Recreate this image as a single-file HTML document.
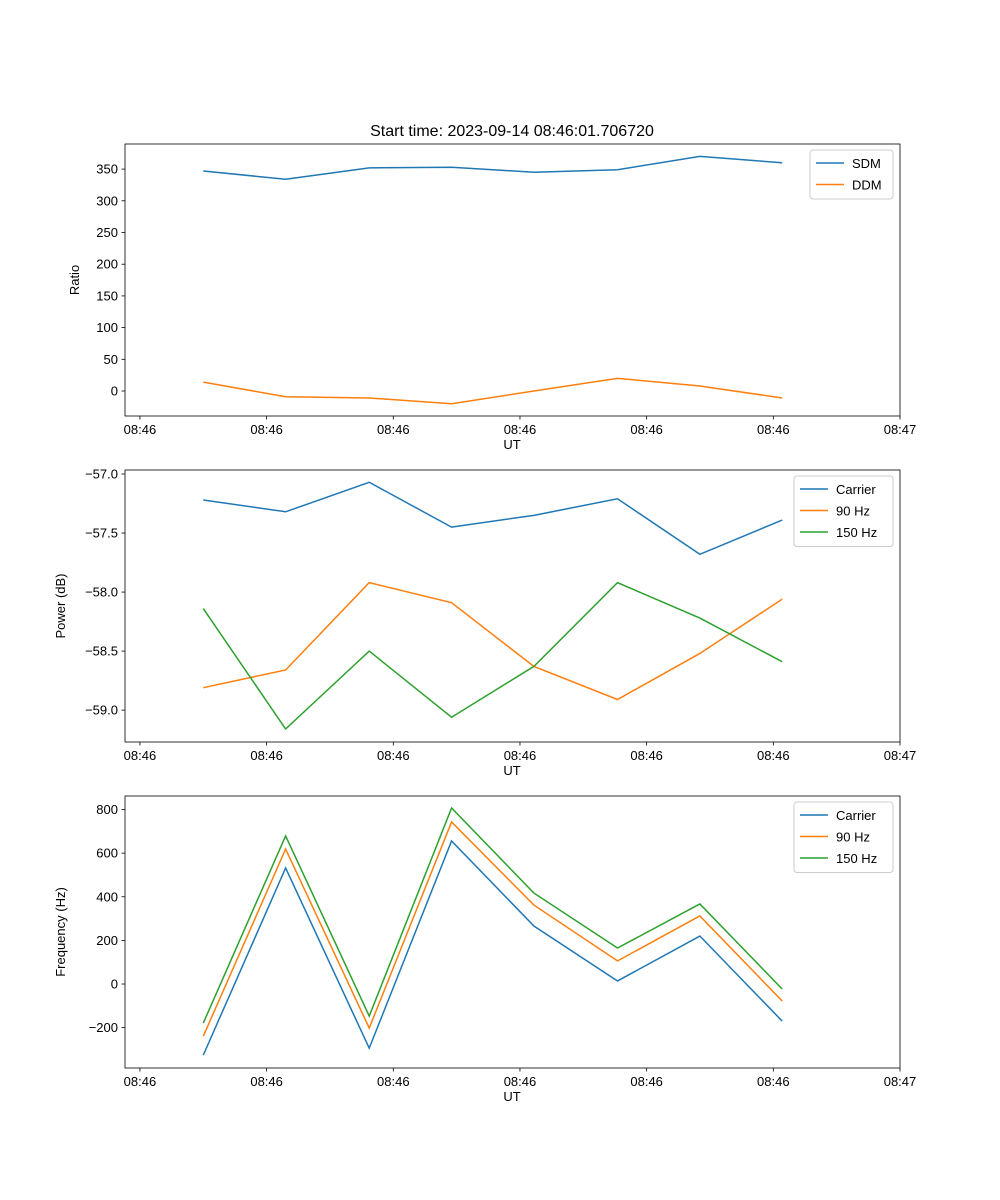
<!DOCTYPE html>
<html><head><meta charset="utf-8">
<style>body{margin:0;background:#fff}svg{display:block;font-family:"Liberation Sans","DejaVu Sans",sans-serif}</style>
</head><body>
<svg id="fig" width="1000" height="1200"></svg>
<script>
const times=[5.0,11.5,18.1,24.6,31.1,37.7,44.2,50.7];
const xTickSecs=[0,10,20,30,40,50,60];
const xTickLabels=["08:46","08:46","08:46","08:46","08:46","08:46","08:47"];
const sdm=[347,334,352,353,345,349,370,360];
const ddm=[14,-9,-11,-20,0,20,8,-11];
const pCarrier=[-57.22,-57.32,-57.07,-57.45,-57.35,-57.21,-57.68,-57.39];
const p90=[-58.81,-58.66,-57.92,-58.09,-58.63,-58.91,-58.52,-58.06];
const p150=[-58.14,-59.16,-58.50,-59.06,-58.63,-57.92,-58.22,-58.59];
const fCarrier=[-326,532,-294,656,266,14,220,-170];
const f90=[-239,619,-202,743,362,106,312,-78];
const f150=[-179,679,-147,807,417,165,367,-23];
const ticks1=[0,50,100,150,200,250,300,350];
const ticks2=[-59.0,-58.5,-58.0,-57.5,-57.0];
const ticks3=[-200,0,200,400,600,800];
const C=["#1f77b4","#ff7f0e","#2ca02c"];
const svg=document.getElementById('fig');
const NS="http://www.w3.org/2000/svg";
function mk(t,a,p){const e=document.createElementNS(NS,t);for(const k in a)e.setAttribute(k,a[k]);(p||svg).appendChild(e);return e;}
function txt(s,a,p){const e=mk('text',a,p);e.textContent=s;return e;}
txt("Start time: 2023-09-14 08:46:01.706720",{x:512,y:136,'text-anchor':'middle','font-size':16,fill:'#000',});
function panel(name,top,ymin,ymax,ticks,fmt,ylabel,series,legendW){
  const L=125,R=900,T=top,B=top+272;
  const g=mk('g',{});
  
  
  const xs=s=>L+(s-(-1.18))/(60-(-1.18))*(R-L);
  const ys=v=>B-(v-ymin)/(ymax-ymin)*(B-T);
  series.forEach((s,i)=>{
    const pl=mk('polyline',{points:s.vals.map((v,j)=>xs(times[j])+','+ys(v)).join(' '),fill:'none',stroke:C[i],'stroke-width':1.5},g);
    
    
  });
  mk('rect',{x:L,y:T,width:R-L,height:B-T,fill:'none',stroke:'#000','stroke-width':0.8},g);
  xTickSecs.forEach((s,i)=>{const x=xs(s);mk('line',{x1:x,x2:x,y1:B,y2:B+3.5,stroke:'#000','stroke-width':0.8},g);
    txt(xTickLabels[i],{x:x,y:B+18,'text-anchor':'middle','font-size':13},g);});
  ticks.forEach(v=>{const y=ys(v);mk('line',{x1:L,x2:L-3.5,y1:y,y2:y,stroke:'#000','stroke-width':0.8},g);
    txt(fmt(v),{x:L-7,y:y+4.5,'text-anchor':'end','font-size':13},g);});
  const xl=txt("UT",{x:512,y:B+33,'text-anchor':'middle','font-size':13},g);
  
  const yl=txt(ylabel,{x:0,y:0,'text-anchor':'middle','font-size':13,transform:`translate(${ylabel==='Ratio'?79:65},${(T+B)/2}) rotate(-90)`},g);
  
  const lx=R-7-legendW,ly=T+6,lh=6+series.length*21.5;
  const lg=mk('g',{},g);
  
  mk('rect',{x:lx,y:ly,width:legendW,height:lh,fill:'#fff',stroke:'#ccc',rx:3},lg);
  series.forEach((s,i)=>{const y=ly+13+i*21.5;
    mk('line',{x1:lx+6,x2:lx+34,y1:y,y2:y,stroke:C[i],'stroke-width':1.5},lg);
    txt(s.label,{x:lx+42,y:y+5,'font-size':13},lg);});
}
panel('ratio',144,-39.4,389.6,ticks1,v=>v===0?'0':String(v),'Ratio',[{key:'sdm',label:'SDM',vals:sdm},{key:'ddm',label:'DDM',vals:ddm}],83);
panel('power',470,-59.27,-56.966,ticks2,v=>'\u2212'+Math.abs(v).toFixed(1),'Power (dB)',[{key:'carrier',label:'Carrier',vals:pCarrier},{key:'90hz',label:'90 Hz',vals:p90},{key:'150hz',label:'150 Hz',vals:p150}],99);
panel('frequency',796,-385,862,ticks3,v=>v<0?'\u2212'+Math.abs(v):String(v),'Frequency (Hz)',[{key:'carrier',label:'Carrier',vals:fCarrier},{key:'90hz',label:'90 Hz',vals:f90},{key:'150hz',label:'150 Hz',vals:f150}],99);
</script>
</body></html>
